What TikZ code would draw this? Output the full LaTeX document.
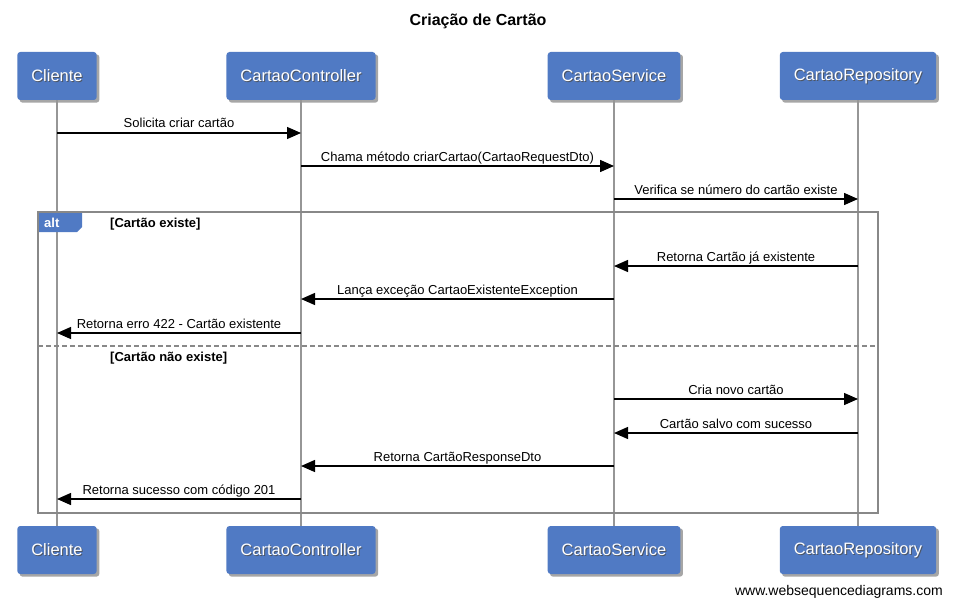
\documentclass[tikz,border=0pt]{standalone}
\usepackage{fontspec}
\setmainfont{Liberation Sans}
\usepackage{tikz}
\usetikzlibrary{arrows.meta, backgrounds}

\definecolor{boxblue}{RGB}{80,122,196}
\definecolor{lifegray}{RGB}{150,150,150}
\definecolor{framegray}{RGB}{136,136,136}

\begin{document}
\begin{tikzpicture}[x=1pt, y=-1pt,
  actor/.style = {fill=boxblue, rounded corners=3pt, minimum height=48pt,
    inner xsep=14pt, text=white, font=\fontsize{16.5}{18}\selectfont},
  actorshade/.style = {text=black!70, font=\fontsize{16.5}{18}\selectfont, opacity=0.8},
  shade/.style = {fill=black, opacity=0.35, rounded corners=3pt},
  life/.style = {draw=lifegray, line width=1.5pt},
  frame/.style = {draw=framegray, line width=1.8pt},
  msg/.style = {-{Triangle[length=14pt, width=12pt]}, line width=1.4pt},
  lbl/.style = {font=\fontsize{13}{15}\selectfont, anchor=base, yshift=5pt, inner sep=0pt},
  guard/.style = {font=\bfseries\fontsize{13}{15}\selectfont, anchor=base west, inner sep=0pt}
]
\useasboundingbox (0,0) rectangle (955,607);
\begin{scope}[on background layer]
  \fill[white] (-1,-1) rectangle (956,608);
\end{scope}

\node[font=\bfseries\fontsize{16}{18}\selectfont] (title) at (478,21) {Criação de Cartão};

% participants and lifelines
\foreach \n/\x/\t in {cli/57/Cliente, ctl/301/CartaoController, svc/614/CartaoService, rep/858/CartaoRepository} {
  \foreach \m/\y in {\n/76, \n2/550} {
    \node[actor] (\m) at (\x,\y) {\phantom{\t}};
    \node[actorshade] (\m-s) at ([shift={(1pt,-1pt)}]\m) {\t};
    \node[actor, fill=none] (\m-t) at (\m) {\t};
    \begin{scope}[on background layer]
      \fill[shade] ([shift={(2.5pt,-2.5pt)}]\m.south west) rectangle ([shift={(2.5pt,-2.5pt)}]\m.north east);
    \end{scope}
  }
  \draw[life] (\n.south) -- (\n2.north);
}

% alt fragment
\fill[boxblue] (38,212) -- (82,212) -- (82,227) -- (77,232) -- (38,232) -- cycle;
\draw[frame] (38,212) rectangle (878,513);
\draw[frame, line width=1.4pt, dash pattern=on 5pt off 3pt] (38,346) -- (878,346);
\node[guard, text=white] (alt) at (44,227) {alt};
\node[guard] (g1) at (110,227) {[Cartão existe]};
\node[guard] (g2) at (110,361) {[Cartão não existe]};

% messages
\foreach \y/\a/\b/\t in {
  133/cli/ctl/{Solicita criar cartão},
  166/ctl/svc/{Chama método criarCartao(CartaoRequestDto)},
  199/svc/rep/{Verifica se número do cartão existe},
  266/rep/svc/{Retorna Cartão já existente},
  299/svc/ctl/{Lança exceção CartaoExistenteException},
  333/ctl/cli/{Retorna erro 422 - Cartão existente},
  399/svc/rep/{Cria novo cartão},
  433/rep/svc/{Cartão salvo com sucesso},
  466/svc/ctl/{Retorna CartãoResponseDto},
  499/ctl/cli/{Retorna sucesso com código 201}}
  \draw[msg] (\a |- 0,\y) -- (\b |- 0,\y) node[lbl, midway] {\t};

\node[font=\fontsize{14}{16}\selectfont, anchor=base east, inner sep=0pt] (site) at (943,595) {www.websequencediagrams.com};
\end{tikzpicture}
\end{document}
